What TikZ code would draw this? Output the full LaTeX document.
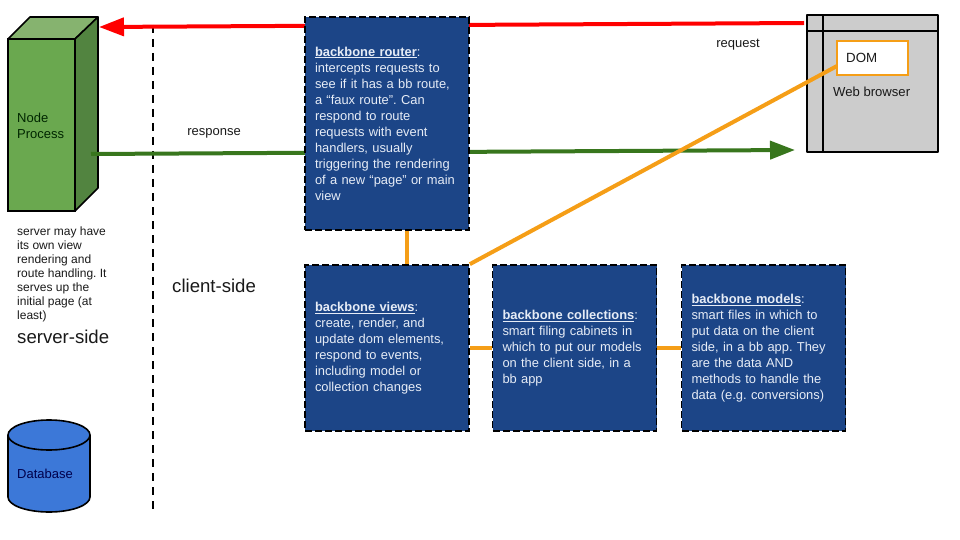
\documentclass[tikz,border=0pt]{standalone}
\usepackage{fontspec}
\setmainfont{Liberation Sans}
\frenchspacing
\usetikzlibrary{positioning}
\usetikzlibrary{arrows.meta}
\definecolor{bbblue}{HTML}{1c4587}
\definecolor{bbtext}{HTML}{e6ecf6}
\definecolor{wire}{HTML}{f59e17}
\definecolor{darkgreen}{HTML}{38761d}
\definecolor{cubefront}{HTML}{6aa84f}
\definecolor{cubetop}{HTML}{86b36f}
\definecolor{cubeside}{HTML}{528440}
\definecolor{dbblue}{HTML}{3c78d8}
\tikzset {
  x=1pt, y=-1pt,
  % dashed blue text boxes
  bbbox/.style = {draw=black, fill=bbblue, line width=1.7pt, dash pattern=on 7pt off 3pt,
    minimum width=164pt, text width=144pt, inner xsep=10pt, inner sep=0pt, align=left,
    text=bbtext, font=\fontsize{12.9}{16}\selectfont},
  outline/.style={draw=black, line width=1.6pt, line join=round},
  note/.style={inner sep=0pt, align=left, text=black!90, font=\fontsize{12}{14}\selectfont},
  bignote/.style={inner sep=0pt, text=black!90, font=\fontsize{18.6}{20}\selectfont},
  % connectors
  request/.style={red, line width=4pt, -{Triangle[length=25pt,width=18pt]}},
  response/.style={darkgreen, line width=4pt, -{Triangle[length=25pt,width=18pt]}},
  link/.style={wire, line width=4pt},
}
\begin{document}
\begin{tikzpicture}
  \useasboundingbox (0,0) rectangle (960,540);

  % node process
  \fill[cubetop, outline] (8,39) -- (30,17) -- (98,17) -- (75,39) -- cycle;
  \fill[cubeside, outline] (75,39) -- (98,17) -- (98,188) -- (75,211) -- cycle;
  \node[draw=black, line width=1.6pt, fill=cubefront, minimum width=67pt, minimum height=172pt,
    inner sep=0pt] (process) at (41.5,125) {};
  \node[note, anchor=north west, text=black!85!green, font=\fontsize{13}{16}\selectfont] (processlabel) at (17,112.5) {Node\\Process};
  \coordinate (processin) at (99,27);
  \coordinate (processout) at (91,154);

  % web browser
  \node[outline, fill=black!20, minimum width=131pt, minimum height=137pt, inner sep=0pt] (browser) at (872.5,83.5) {};
  \coordinate (barleft) at (823,15);
  \coordinate (barright) at (938,31);
  \draw[outline] (barleft) -- (barleft |- browser.south);
  \draw[outline] (browser.west |- barright) -- (barright);
  \node[draw=wire, line width=1.7pt, fill=white, minimum width=71pt, minimum height=34pt, inner sep=0pt] (dom) at (872.5,58) {};
  \node[note, anchor=west, font=\fontsize{13.3}{16}\selectfont] (domlabel) at (846,58) {DOM};
  \node[note, anchor=west, font=\fontsize{13.1}{16}\selectfont] (browserlabel) at (833,92) {Web browser};
  \coordinate (browserin) at (795,150);
  \coordinate (browserout) at (804,23);
  \coordinate (domin) at (837,66);

  % boundary between server and client
  \coordinate (splittop) at (153,25);
  \coordinate (splitbottom) at (153,510);
  \draw[black, line width=1.7pt, dash pattern=on 8pt off 6pt] (splittop) -- (splitbottom);

  \draw[request] (browserout) -- (processin);
  \draw[response] (processout) -- (browserin);

  % backbone boxes
  \node[bbbox, minimum height=213pt] (router) at (387,123.5) {\underline{\textbf{backbone router}}:\\intercepts requests to\\see if it has a bb route,\\a “faux route”. Can\\respond to route\\requests with event\\handlers, usually\\triggering the rendering\\of a new “page” or main\\view};
  \node[bbbox, minimum height=166pt] (views) at (387,348) {\underline{\textbf{backbone views}}:\\create, render, and\\update dom elements,\\respond to events,\\including model or\\collection changes};
  \node[bbbox, minimum height=166pt] (collections) at (574.5,348) {\underline{\textbf{backbone collections}}:\\smart filing cabinets in\\which to put our models\\on the client side, in a\\bb app};
  \node[bbbox, minimum height=166pt] (models) at (763.5,348) {\underline{\textbf{backbone models}}:\\smart files in which to\\put data on the client\\side, in a bb app. They\\are the data AND\\methods to handle the\\data (e.g. conversions)};

  \draw[link] (router.south -| 407,0) -- (views.north -| 407,0);
  \draw[link] (views.east) -- (collections.west);
  \draw[link] (collections.east) -- (models.west);
  \draw[link] (views.north east) -- (domin);

  % free standing labels
  \node[note, font=\fontsize{13}{16}\selectfont] (requestlabel) at (738,45) {request};
  \node[note, font=\fontsize{13}{16}\selectfont] (responselabel) at (214,133) {response};
  \node[note, anchor=north west] (servernote) at (17,226.5) {server may have\\its own view\\rendering and\\route handling. It\\serves up the\\initial page (at\\least)};
  \node[bignote, anchor=west] (serverside) at (17,337) {server-side};
  \node[bignote, anchor=west] (clientside) at (172,286) {client-side};

  % database
  \fill[dbblue, outline] (8,435) -- (8,497) arc[start angle=180, end angle=360, x radius=41, y radius=-15]
    -- (90,435) arc[start angle=0, end angle=180, x radius=41, y radius=-15] -- cycle;
  \draw[outline] (8,435) arc[start angle=180, end angle=360, x radius=41, y radius=-15];
  \node[note, text=black!70!blue, font=\fontsize{13}{16}\selectfont] (database) at (45,474) {Database};
\end{tikzpicture}
\end{document}
